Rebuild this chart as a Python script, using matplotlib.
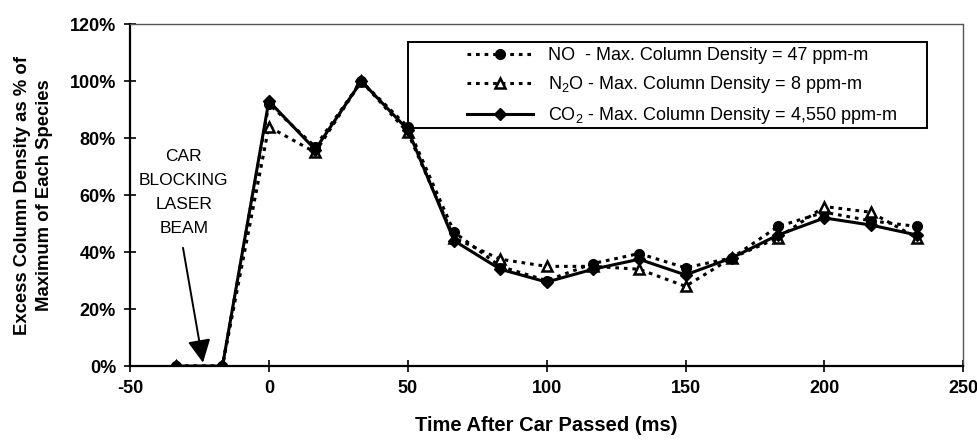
import matplotlib
matplotlib.use("Agg")
import matplotlib.pyplot as plt
from matplotlib.patches import Rectangle
from matplotlib.ticker import PercentFormatter

plt.rcParams["font.family"] = ["Liberation Sans", "DejaVu Sans"]
plt.rcParams["mathtext.fontset"] = "custom"
plt.rcParams["mathtext.rm"] = "Liberation Sans"
plt.rcParams["mathtext.it"] = "Liberation Sans"
plt.rcParams["axes.unicode_minus"] = False

# time after car passed (ms)
t_ms = [-33.3, -16.7, 0, 16.7, 33.3, 50, 66.7, 83.3, 100, 116.7,
        133.3, 150, 166.7, 183.3, 200, 216.7, 233.3]

# % of max column density per species
no_pct = [0, 0, 92, 77, 100, 84, 47, 35, 30, 36, 39.5, 34.5, 38, 49, 54, 51, 49]
n2o_pct = [0, 0, 84, 75, 100, 82, 45, 37.5, 35, 35, 34, 28, 38, 45, 56, 54, 45]
co2_pct = [0, 0, 93, 76, 100, 83, 44, 34, 29.5, 34, 37.5, 32, 38, 46, 52, 49.5, 46]

labels = [r"NO  - Max. Column Density = 47 ppm-m",
          r"N$_2$O - Max. Column Density = 8 ppm-m",
          r"CO$_2$ - Max. Column Density = 4,550 ppm-m"]

x_ticks = [-50, 0, 50, 100, 150, 200, 250]
y_ticks = [0, 20, 40, 60, 80, 100, 120]

fig = plt.figure(figsize=(9.77, 4.40), dpi=100)
ax = fig.add_subplot(111)
fig.subplots_adjust(left=0.133, right=0.986, bottom=0.168, top=0.945)

dots = (0, (1.2, 1.6))
ax.plot(t_ms, no_pct, linestyle=dots, lw=2.2, color="k",
        marker="o", ms=7, mfc="k", mec="k", label=labels[0], zorder=3)
ax.plot(t_ms, n2o_pct, linestyle=dots, lw=2.2, color="k",
        marker="^", ms=7.5, mfc="white", mec="k", mew=1.8, label=labels[1], zorder=4)
ax.plot(t_ms, co2_pct, linestyle="-", lw=2.2, color="k",
        marker="D", ms=6.5, mfc="k", mec="k", label=labels[2], zorder=5)

ax.set_xlim(-50, 250)
ax.set_ylim(0, 120)
ax.set_xticks(x_ticks)
ax.set_yticks(y_ticks)
ax.yaxis.set_major_formatter(PercentFormatter(decimals=0))
ax.tick_params(direction="inout", length=8, width=1.2, labelsize=13, pad=6)
for lab in ax.get_xticklabels() + ax.get_yticklabels():
    lab.set_fontweight("bold")

for side in ["left", "bottom"]:
    ax.spines[side].set_linewidth(1.6)
    ax.spines[side].set_color("k")
for side in ["top", "right"]:
    ax.spines[side].set_linestyle((0, (1, 1)))
    ax.spines[side].set_linewidth(1.0)
    ax.spines[side].set_color("#555555")

ax.set_xlabel("Time After Car Passed (ms)", fontsize=14.5, fontweight="bold", labelpad=14)
ax.set_ylabel("Excess Column Density as % of\nMaximum of Each Species",
              fontsize=13.3, fontweight="bold", labelpad=12, linespacing=1.4)

# annotation for the blocked beam
ax.text(-30.6, 61, "CAR\nBLOCKING\nLASER\nBEAM", ha="center", va="center",
        fontsize=12.5, linespacing=1.75)
ax.annotate("", xy=(-23.7, 1.2), xytext=(-30.9, 41.5),
            arrowprops=dict(arrowstyle="-|>,head_length=0.7,head_width=0.35",
                            mutation_scale=20, color="k", lw=1.4,
                            shrinkA=0, shrinkB=0))

# legend: entries without frame, box drawn separately (wide left margin)
leg = ax.legend(loc="upper left", bbox_to_anchor=(0.4046, 0.933), borderaxespad=0,
                fontsize=13, frameon=False, handlelength=3.65, handletextpad=0.83,
                labelspacing=0.55, borderpad=0)
ax.add_patch(Rectangle((0.334, 0.696), 0.623, 0.251, transform=ax.transAxes,
                       fill=False, edgecolor="k", lw=1.4, zorder=6))

fig.savefig("out.png", dpi=100)
